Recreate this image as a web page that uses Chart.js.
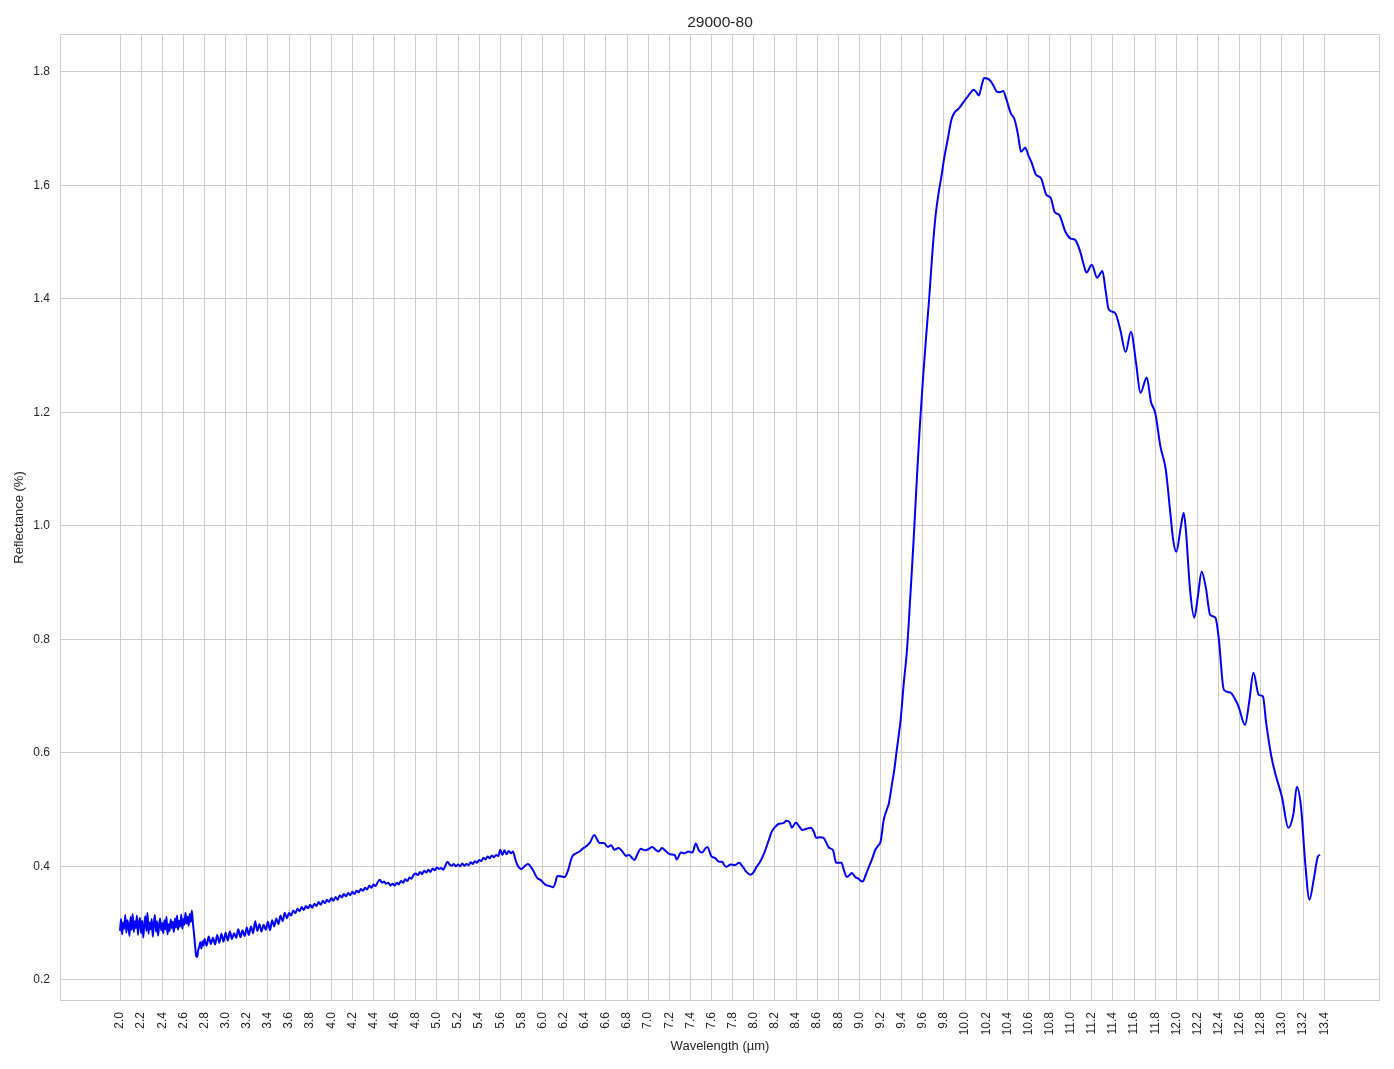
<!DOCTYPE html>
<html>
<head>
<meta charset="utf-8">
<title>29000-80</title>
<script src="https://cdn.jsdelivr.net/npm/chart.js@4.4.1/dist/chart.umd.min.js"></script>
<style>
  html, body { margin: 0; padding: 0; background: #ffffff; }
  #wrap { width: 1394px; height: 1069px; }
</style>
</head>
<body>
<div id="wrap"><canvas id="spectrum" width="1394" height="1069"></canvas></div>
<script>
var sampleName = '29000-80';
var xLabel = 'Wavelength (µm)';
var yLabel = 'Reflectance (%)';

var xTicks = [2.0, 2.2, 2.4, 2.6, 2.8, 3.0, 3.2, 3.4, 3.6, 3.8, 4.0, 4.2, 4.4, 4.6, 4.8, 5.0, 5.2, 5.4, 5.6, 5.8,
              6.0, 6.2, 6.4, 6.6, 6.8, 7.0, 7.2, 7.4, 7.6, 7.8, 8.0, 8.2, 8.4, 8.6, 8.8, 9.0, 9.2, 9.4, 9.6, 9.8,
              10.0, 10.2, 10.4, 10.6, 10.8, 11.0, 11.2, 11.4, 11.6, 11.8, 12.0, 12.2, 12.4, 12.6, 12.8, 13.0, 13.2, 13.4];
var yTicks = [0.2, 0.4, 0.6, 0.8, 1.0, 1.2, 1.4, 1.6, 1.8];

// noisy start, up to the drop near 2.7 um
var waveA = [2.00, 2.01, 2.02, 2.03, 2.04, 2.05, 2.06, 2.07, 2.08, 2.09,
             2.10, 2.11, 2.12, 2.13, 2.14, 2.15, 2.16, 2.17, 2.18, 2.19,
             2.20, 2.21, 2.22, 2.23, 2.24, 2.25, 2.26, 2.27, 2.28, 2.29,
             2.30, 2.31, 2.32, 2.33, 2.34, 2.35, 2.36, 2.37, 2.38, 2.39,
             2.40, 2.41, 2.42, 2.43, 2.44, 2.45, 2.46, 2.47, 2.48, 2.49,
             2.50, 2.51, 2.52, 2.53, 2.54, 2.55, 2.56, 2.57, 2.58, 2.59,
             2.60, 2.61, 2.62, 2.63, 2.64, 2.65, 2.66, 2.67, 2.68, 2.69,
             2.70, 2.71, 2.72, 2.73, 2.74, 2.75, 2.76, 2.77, 2.78, 2.79];
var reflA = [0.286, 0.307, 0.280, 0.301, 0.290, 0.314, 0.283, 0.305, 0.295, 0.277,
             0.311, 0.288, 0.316, 0.284, 0.303, 0.291, 0.313, 0.279, 0.300, 0.309,
             0.282, 0.304, 0.274, 0.298, 0.312, 0.286, 0.318, 0.281, 0.301, 0.289,
             0.307, 0.276, 0.299, 0.314, 0.285, 0.303, 0.278, 0.296, 0.308, 0.287,
             0.300, 0.282, 0.305, 0.289, 0.311, 0.280, 0.298, 0.286, 0.306, 0.291,
             0.302, 0.284, 0.308, 0.292, 0.313, 0.288, 0.304, 0.294, 0.315, 0.290,
             0.307, 0.297, 0.318, 0.299, 0.311, 0.295, 0.316, 0.302, 0.322, 0.300,
             0.283, 0.262, 0.243, 0.240, 0.252, 0.258, 0.266, 0.255, 0.268, 0.260];

// slow recovery after the drop
var waveB = [2.80, 2.82, 2.84, 2.86, 2.88, 2.90, 2.92, 2.94, 2.96, 2.98,
             3.00, 3.02, 3.04, 3.06, 3.08, 3.10, 3.12, 3.14, 3.16, 3.18,
             3.20, 3.22, 3.24, 3.26, 3.28, 3.30, 3.32, 3.34, 3.36, 3.38,
             3.40, 3.42, 3.44, 3.46, 3.48, 3.50, 3.52, 3.54, 3.56, 3.58];
var reflB = [0.272, 0.260, 0.276, 0.263, 0.274, 0.262, 0.279, 0.265, 0.281, 0.267,
             0.283, 0.269, 0.285, 0.272, 0.282, 0.274, 0.289, 0.275, 0.287, 0.277,
             0.292, 0.279, 0.294, 0.282, 0.303, 0.286, 0.298, 0.285, 0.297, 0.288,
             0.302, 0.287, 0.305, 0.294, 0.308, 0.298, 0.313, 0.303, 0.318, 0.308];

// rising plateau to ~5.7 um
var waveC = [3.60, 3.62, 3.64, 3.66, 3.68, 3.70, 3.72, 3.74, 3.76, 3.78,
             3.80, 3.82, 3.84, 3.86, 3.88, 3.90, 3.92, 3.94, 3.96, 3.98,
             4.00, 4.02, 4.04, 4.06, 4.08, 4.10, 4.12, 4.14, 4.16, 4.18,
             4.20, 4.22, 4.24, 4.26, 4.28, 4.30, 4.32, 4.34, 4.36, 4.38,
             4.40, 4.42, 4.44, 4.46, 4.48, 4.50, 4.52, 4.54, 4.56, 4.58,
             4.60, 4.62, 4.64, 4.66, 4.68, 4.70, 4.72, 4.74, 4.76, 4.78,
             4.80, 4.82, 4.84, 4.86, 4.88, 4.90, 4.92, 4.94, 4.96, 4.98,
             5.00, 5.02, 5.04, 5.06, 5.08, 5.10, 5.12, 5.14, 5.16, 5.18,
             5.20, 5.22, 5.24, 5.26, 5.28, 5.30, 5.32, 5.34, 5.36, 5.38,
             5.40, 5.42, 5.44, 5.46, 5.48, 5.50, 5.52, 5.54, 5.56, 5.58,
             5.60, 5.62, 5.64, 5.66, 5.68, 5.70, 5.72, 5.74];
var reflC = [0.318, 0.313, 0.322, 0.317, 0.325, 0.321, 0.328, 0.323, 0.330, 0.326,
             0.332, 0.327, 0.334, 0.330, 0.337, 0.332, 0.339, 0.335, 0.341, 0.337,
             0.344, 0.339, 0.346, 0.341, 0.349, 0.345, 0.351, 0.347, 0.353, 0.349,
             0.355, 0.351, 0.357, 0.354, 0.360, 0.357, 0.362, 0.359, 0.366, 0.362,
             0.368, 0.365, 0.372, 0.376, 0.371, 0.373, 0.369, 0.371, 0.366, 0.369,
             0.366, 0.371, 0.368, 0.374, 0.371, 0.377, 0.374, 0.380, 0.378, 0.385,
             0.387, 0.384, 0.390, 0.386, 0.392, 0.389, 0.394, 0.390, 0.396, 0.393,
             0.398, 0.395, 0.397, 0.394, 0.401, 0.408, 0.403, 0.401, 0.404, 0.400,
             0.403, 0.400, 0.405, 0.401, 0.404, 0.402, 0.407, 0.404, 0.409, 0.406,
             0.411, 0.409, 0.415, 0.412, 0.417, 0.414, 0.419, 0.416, 0.420, 0.418,
             0.429, 0.420, 0.428, 0.421, 0.427, 0.423, 0.426, 0.414];

// smooth part: bumps, the main band and the falling wing
var waveD = [5.76, 5.80, 5.83, 5.86, 5.91, 5.95, 5.98, 6.03, 6.07, 6.10,
             6.12, 6.14, 6.18, 6.21, 6.24, 6.28, 6.31, 6.35, 6.38, 6.42,
             6.45, 6.49, 6.52, 6.54, 6.58, 6.62, 6.65, 6.68, 6.72, 6.76,
             6.79, 6.82, 6.85, 6.87, 6.90, 6.93, 6.97, 7.00, 7.04, 7.07,
             7.10, 7.13, 7.17, 7.21, 7.25, 7.27, 7.31, 7.35, 7.38, 7.42,
             7.45, 7.48, 7.51, 7.54, 7.56, 7.60, 7.63, 7.67, 7.70, 7.72,
             7.74, 7.78, 7.82, 7.86, 7.90, 7.93, 7.97, 8.00, 8.02, 8.06,
             8.10, 8.14, 8.17, 8.21, 8.24, 8.28, 8.31, 8.34, 8.36, 8.40,
             8.43, 8.46, 8.50, 8.54, 8.57, 8.59, 8.63, 8.66, 8.69, 8.71,
             8.75, 8.78, 8.83, 8.85, 8.88, 8.91, 8.93, 8.96, 8.99, 9.03,
             9.06, 9.09, 9.12, 9.15, 9.18, 9.20, 9.23, 9.26, 9.28, 9.31,
             9.33, 9.35, 9.37, 9.39, 9.42, 9.45, 9.48, 9.51, 9.54, 9.57,
             9.60, 9.63, 9.66, 9.69, 9.72, 9.75, 9.78, 9.80, 9.84, 9.87,
             9.90, 9.94, 9.98, 10.02, 10.06, 10.08, 10.11, 10.13, 10.16, 10.18,
             10.21, 10.24, 10.27, 10.30, 10.33, 10.36, 10.39, 10.43, 10.47, 10.50,
             10.53, 10.57, 10.60, 10.63, 10.67, 10.72, 10.77, 10.81, 10.85, 10.89,
             10.95, 11.00, 11.04, 11.09, 11.12, 11.15, 11.20, 11.25, 11.30, 11.33,
             11.36, 11.42, 11.47, 11.52, 11.57, 11.62, 11.66, 11.72, 11.76, 11.80,
             11.85, 11.90, 11.94, 11.97, 12.00, 12.04, 12.07, 12.09, 12.13, 12.17,
             12.20, 12.24, 12.28, 12.32, 12.37, 12.40, 12.45, 12.51, 12.56, 12.59,
             12.65, 12.69, 12.73, 12.78, 12.82, 12.85, 12.90, 12.94, 13.00, 13.06,
             13.11, 13.14, 13.18, 13.22, 13.26, 13.30, 13.34, 13.36];
var reflD = [0.403, 0.395, 0.400, 0.404, 0.393, 0.379, 0.376, 0.367, 0.365, 0.363,
             0.370, 0.383, 0.382, 0.381, 0.392, 0.417, 0.422, 0.426, 0.431, 0.436,
             0.442, 0.455, 0.446, 0.441, 0.441, 0.434, 0.437, 0.429, 0.432, 0.425,
             0.418, 0.420, 0.414, 0.411, 0.422, 0.431, 0.428, 0.430, 0.434, 0.429,
             0.426, 0.432, 0.426, 0.421, 0.420, 0.412, 0.424, 0.423, 0.426, 0.424,
             0.440, 0.428, 0.424, 0.431, 0.434, 0.417, 0.415, 0.408, 0.408, 0.402,
             0.399, 0.403, 0.402, 0.406, 0.398, 0.390, 0.385, 0.390, 0.397, 0.408,
             0.424, 0.445, 0.461, 0.471, 0.475, 0.476, 0.480, 0.477, 0.468, 0.477,
             0.470, 0.464, 0.466, 0.468, 0.460, 0.450, 0.451, 0.450, 0.440, 0.433,
             0.428, 0.406, 0.406, 0.395, 0.381, 0.385, 0.388, 0.381, 0.378, 0.373,
             0.385, 0.399, 0.413, 0.429, 0.437, 0.443, 0.482, 0.500, 0.512, 0.547,
             0.570, 0.600, 0.628, 0.658, 0.723, 0.781, 0.870, 0.965, 1.070, 1.170,
             1.255, 1.330, 1.400, 1.480, 1.545, 1.587, 1.620, 1.645, 1.685, 1.715,
             1.728, 1.735, 1.745, 1.755, 1.765, 1.768, 1.763, 1.758, 1.778, 1.789,
             1.788, 1.784, 1.775, 1.765, 1.764, 1.766, 1.752, 1.728, 1.715, 1.690,
             1.659, 1.666, 1.652, 1.640, 1.619, 1.612, 1.583, 1.578, 1.552, 1.548,
             1.518, 1.506, 1.504, 1.483, 1.462, 1.446, 1.460, 1.437, 1.449, 1.415,
             1.381, 1.375, 1.345, 1.306, 1.342, 1.285, 1.234, 1.261, 1.218, 1.199,
             1.139, 1.099, 1.028, 0.975, 0.954, 0.995, 1.023, 0.993, 0.887, 0.838,
             0.870, 0.919, 0.890, 0.843, 0.838, 0.804, 0.711, 0.706, 0.693, 0.681,
             0.649, 0.690, 0.741, 0.702, 0.699, 0.653, 0.593, 0.561, 0.522, 0.468,
             0.494, 0.540, 0.505, 0.406, 0.341, 0.376, 0.417, 0.420];

var wavelength = waveA.concat(waveB, waveC, waveD);
var reflectance = reflA.concat(reflB, reflC, reflD);

var points = wavelength.map(function (w, i) {
    return { x: w, y: reflectance[i] };
});

// 5% margins on both axes, like the original plot
var xLo = Math.min.apply(null, wavelength), xHi = Math.max.apply(null, wavelength);
var yLo = Math.min.apply(null, reflectance), yHi = Math.max.apply(null, reflectance);
var xPad = (xHi - xLo) * 0.05, yPad = (yHi - yLo) * 0.05;

var textColor = '#262626';
var gridColor = '#cccccc';
Chart.defaults.font.family = '"Liberation Sans", Arial, sans-serif';

// all four spines and the title centred over the axes
var frameAndTitle = {
    id: 'frameAndTitle',
    afterDraw: function (chart) {
        var a = chart.chartArea;
        var c = chart.ctx;
        c.save();
        c.strokeStyle = gridColor;
        c.lineWidth = 1;
        c.strokeRect(Math.round(a.left) + 0.5, Math.round(a.top) + 0.5,
                     Math.round(a.right - a.left) - 1, Math.round(a.bottom - a.top) - 1);
        c.fillStyle = textColor;
        c.font = '15.5px "Liberation Sans", Arial, sans-serif';
        c.textAlign = 'center';
        c.textBaseline = 'alphabetic';
        c.fillText(sampleName, (a.left + a.right) / 2, 26.5);
        c.restore();
    }
};

var ctx = document.getElementById('spectrum').getContext('2d');
var chart = new Chart(ctx, {
    type: 'line',
    data: {
        datasets: [{
            data: points,
            borderColor: '#0000ff',
            borderWidth: 2,
            pointRadius: 0,
            fill: false,
            cubicInterpolationMode: 'monotone'
        }]
    },
    options: {
        responsive: false,
        animation: false,
        layout: { padding: { top: 34, right: 14, bottom: 0, left: 0 } },
        plugins: {
            legend: { display: false },
            title: { display: false },
            tooltip: { enabled: false }
        },
        scales: {
            x: {
                type: 'linear',
                min: xLo - xPad,
                max: xHi + xPad,
                afterBuildTicks: function (s) { s.ticks = xTicks.map(function (v) { return { value: v }; }); },
                afterFit: function (s) { s.height = 68; },
                ticks: {
                    autoSkip: false,
                    minRotation: 90,
                    maxRotation: 90,
                    padding: 11,
                    color: textColor,
                    font: { size: 12 },
                    callback: function (v) { return Number(v).toFixed(1); }
                },
                grid: { color: gridColor, lineWidth: 1, drawTicks: false },
                border: { display: false },
                title: {
                    display: true,
                    text: xLabel,
                    color: textColor,
                    font: { size: 13 },
                    padding: { top: 0, bottom: 15 }
                }
            },
            y: {
                type: 'linear',
                min: yLo - yPad,
                max: yHi + yPad,
                afterBuildTicks: function (s) { s.ticks = yTicks.map(function (v) { return { value: v }; }); },
                afterFit: function (s) { s.width = 60; },
                ticks: {
                    padding: 10,
                    color: textColor,
                    font: { size: 12 },
                    callback: function (v) { return Number(v).toFixed(1); }
                },
                grid: { color: gridColor, lineWidth: 1, drawTicks: false },
                border: { display: false },
                title: {
                    display: true,
                    text: yLabel,
                    color: textColor,
                    font: { size: 13 },
                    padding: { top: 12, bottom: 0 }
                }
            }
        }
    },
    plugins: [frameAndTitle]
});
</script>
</body>
</html>
